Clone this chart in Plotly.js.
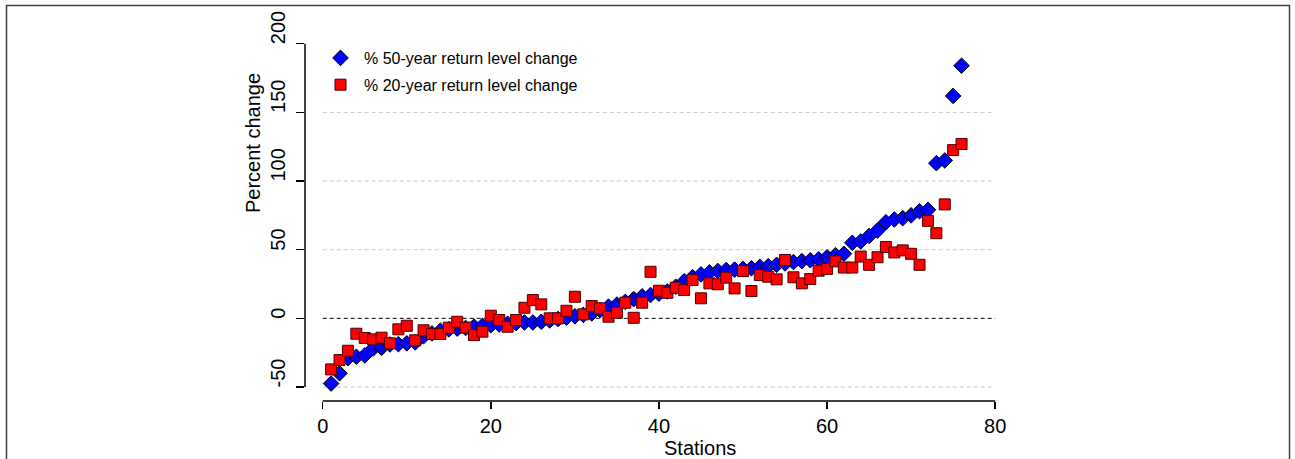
<!DOCTYPE html>
<html>
<head>
<meta charset="utf-8">
<script src="https://cdn.plot.ly/plotly-3.0.1.min.js"></script>
<style>
html,body{margin:0;padding:0;background:#fff;}
#chart{width:1295px;height:459px;}
</style>
</head>
<body>
<div id="chart"></div>
<script>
// Station index (sorted by 50-year change)
const stations = [];
for (let i = 1; i <= 76; i++) stations.push(i);

// % change of the 50-year return level
const change50 = [
  -47.5, -40, -29, -28, -27, -22, -21.5, -19, -18.8, -18.2,
  -17.5, -13, -11, -9, -8, -7.5, -7, -6, -5.5, -5,
  -4.5, -4, -3.5, -3, -3, -2.5, -1.5, -0.5, 0.5, 1.5,
  2.5, 3.6, 6, 8.5, 10, 12, 14, 16, 17, 18,
  19.5, 23, 27, 30, 32, 33.5, 34.5, 35.2, 35.5, 36,
  36.5, 37.5, 38, 39, 40, 41, 41.7, 42.3, 43, 44.5,
  46, 47, 55, 56, 60, 64, 70, 72, 73, 75,
  78, 79, 113, 115, 162, 184
];

// % change of the 20-year return level
const change20 = [
  -37.2, -30.4, -23.6, -11.2, -14.3, -15.3, -14.1, -18.2, -8, -5.4,
  -16, -8.7, -11.4, -11.4, -6.8, -2.5, -6.8, -12.2, -9.7, 1.9,
  -1.2, -6.1, -1.2, 7.7, 13.3, 10.2, 0, 0, 5.5, 15.7,
  2.9, 9, 7.3, 1.2, 4.1, 11.4, 0.4, 11.4, 33.9, 20.1,
  18.6, 22.3, 20.6, 27.9, 14.6, 25.5, 24.8, 29.6, 21.8, 34.4,
  19.9, 31.5, 30.3, 28.4, 42.5, 29.9, 25.5, 28.6, 34.7, 36,
  41.5, 37, 37, 45, 39, 44.5, 52, 48, 49.5, 47,
  39, 71, 62, 83, 122.5, 127
];

const seriesNames = ['% 50-year return level change', '% 20-year return level change'];
const xTicks = [0, 20, 40, 60, 80];
const yTicks = [-50, 0, 50, 100, 150, 200];
const yTickLabels = ['-50', '0', '50', '100', '150', '200'];
const gridLevels = [-50, 50, 100, 150];

const FONT = 'Liberation Sans, Arial, sans-serif';

const traces = [
  {
    x: stations, y: change50, type: 'scatter', mode: 'markers',
    name: seriesNames[0], legendgroup: 'a',
    marker: {symbol: 'diamond', size: 12, color: '#0000ff', line: {color: '#000000', width: 1}}
  },
  {
    x: stations, y: change20, type: 'scatter', mode: 'markers',
    name: seriesNames[1], legendgroup: 'b',
    marker: {symbol: 'square', size: 11, color: '#ff0000', line: {color: '#4a0000', width: 1}}
  }
];

const shapes = [];
gridLevels.forEach(v => shapes.push({
  type: 'line', xref: 'x', yref: 'y', x0: 0, x1: 80, y0: v, y1: v,
  line: {color: '#c8c8c8', width: 1, dash: '4px,3px'}, layer: 'below'
}));
shapes.push({
  type: 'line', xref: 'x', yref: 'y', x0: 0, x1: 80, y0: 0, y1: 0,
  line: {color: '#000000', width: 1, dash: '4px,3px'}, layer: 'below'
});
// axis lines (span first to last tick)
shapes.push({type: 'line', xref: 'paper', yref: 'y', x0: 0, x1: 0, y0: yTicks[0], y1: yTicks[yTicks.length-1],
  line: {color: '#000', width: 1.5}});
shapes.push({type: 'line', xref: 'x', yref: 'paper', x0: xTicks[0], x1: xTicks[xTicks.length-1], y0: 0, y1: 0,
  line: {color: '#000', width: 1.5}});
// outer frame
shapes.push({type: 'rect', xref: 'paper', yref: 'paper',
  x0: (6.5-305)/707, x1: (1289.5-305)/707, y0: (401-480)/371, y1: (401-5.5)/371,
  line: {color: '#404040', width: 1.5}});

const annotations = [
  {text: 'Stations', xref: 'paper', yref: 'paper', x: (700-305)/707, y: (401-448)/371,
   xanchor: 'center', yanchor: 'middle', showarrow: false, font: {family: FONT, size: 20, color: '#000'}},
  {text: 'Percent change', xref: 'paper', yref: 'paper', x: (253-305)/707, y: (401-143)/371,
   xanchor: 'center', yanchor: 'middle', textangle: -90, showarrow: false, font: {family: FONT, size: 20, color: '#000'}}
];
// y tick labels: rotated, starting at the tick and reading upward
yTicks.forEach((v, k) => annotations.push({
  text: yTickLabels[k], xref: 'paper', yref: 'y', x: (278-305)/707, y: v,
  xanchor: 'center', yanchor: 'bottom', textangle: -90, showarrow: false,
  borderpad: 0, yshift: -2,
  font: {family: FONT, size: 20, color: '#000'}
}));

const layout = {
  width: 1295, height: 459,
  margin: {l: 305, r: 283, t: 30, b: 58},
  paper_bgcolor: '#fff', plot_bgcolor: '#fff',
  font: {family: FONT, color: '#000', size: 20},
  showlegend: true,
  legend: {
    x: (317-305)/707, y: (401-41)/371, xanchor: 'left', yanchor: 'top',
    font: {family: FONT, size: 16, color: '#000'},
    bgcolor: 'rgba(0,0,0,0)', tracegroupgap: 3, itemwidth: 37
  },
  xaxis: {
    range: [-2.107, 82.0], tickvals: xTicks, ticktext: xTicks.map(String),
    showgrid: false, zeroline: false, showline: false,
    ticks: 'outside', ticklen: 7, tickwidth: 1.5, tickcolor: '#000',
    tickfont: {family: FONT, size: 20, color: '#000'}
  },
  yaxis: {
    range: [-60.2, 210], tickvals: yTicks, showticklabels: false,
    showgrid: false, zeroline: false, showline: false,
    ticks: 'outside', ticklen: 8, tickwidth: 1.5, tickcolor: '#000'
  },
  shapes: shapes,
  annotations: annotations
};

Plotly.newPlot('chart', traces, layout, {displayModeBar: false, staticPlot: true});
</script>
</body>
</html>
